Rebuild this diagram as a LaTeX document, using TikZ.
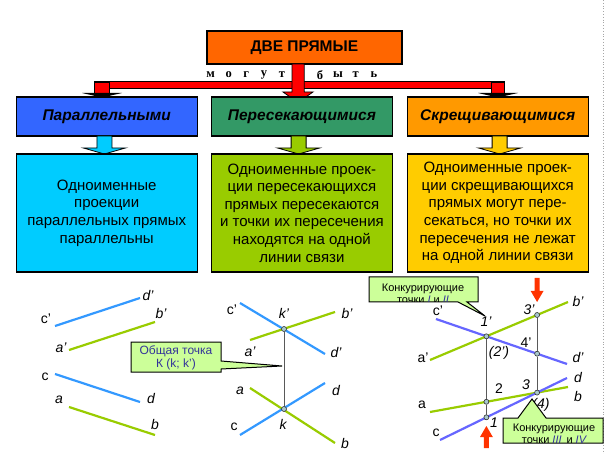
\documentclass[tikz,border=0pt]{standalone}
\usepackage{fontspec}
\setmainfont{Liberation Sans}
\newfontfamily\serifbold{Liberation Serif}[BoldFont={Liberation Serif Bold}]
\definecolor{topor}{HTML}{FF6600}
\definecolor{boxblue}{HTML}{3366FF}
\definecolor{boxgreen}{HTML}{339966}
\definecolor{boxorange}{HTML}{FF9900}
\definecolor{boxcyan}{HTML}{00CCFF}
\definecolor{boxlime}{HTML}{99CC00}
\definecolor{boxyellow}{HTML}{FFCC00}
\definecolor{lnblue}{HTML}{3399FF}
\definecolor{lngreen}{HTML}{99CC00}
\definecolor{lnpurple}{HTML}{6666FF}
\definecolor{callfill}{HTML}{CCFF99}
\definecolor{calltext}{HTML}{333399}
\definecolor{ptfill}{HTML}{A8C8CC}
\definecolor{arrred}{HTML}{FF3300}
\newcommand\blockarr[4]{%
  \draw[fill=#1,line width=0.8pt,line join=miter] (#2-7.5,#3) -- (#2+7.5,#3) -- (#2+7.5,#4-6) -- (#2+21,#4-6) -- (#2,#4) -- (#2-21,#4-6) -- (#2-7.5,#4-6) -- cycle;}
\begin{document}
\begin{tikzpicture}[x=1pt,y=-1pt,
  box/.style={draw=black,line width=1.3pt,inner sep=0pt,align=center,minimum width=181pt},
  topbox/.style={box,fill=topor,minimum width=195pt,minimum height=33pt,font=\bfseries\fontsize{15.5}{18}\selectfont},
  catbox/.style={box,minimum height=39pt,font=\bfseries\itshape\fontsize{15.5}{18}\selectfont},
  txtbox/.style={box,minimum height=118pt,font=\fontsize{15}{17.6}\selectfont},
  lab/.style={inner sep=0pt,font=\itshape\fontsize{14}{14}\selectfont},
  labu/.style={inner sep=0pt,font=\fontsize{14}{14}\selectfont},
  ln/.style={line width=2.2pt},
  link/.style={draw=black!65,line width=0.9pt},
  pt/.style={circle,draw=black!80,fill=ptfill,inner sep=0pt,minimum size=5pt,line width=0.6pt},
  callout/.style={draw=black,line width=1pt,fill=callfill},
  calltxt/.style={inner sep=0pt,align=center,text=calltext},
  letter/.style={inner sep=0pt,font=\serifbold\bfseries\fontsize{12.5}{12.5}\selectfont}
]
\useasboundingbox (0,0) rectangle (605,454);
\fill[white] (0,0) rectangle (605,454);
\draw[black!35,dotted,line width=0.8pt] (603,0) -- (603,454);

% top
\node[topbox] (top) at (304.4,47.5) {ДВЕ ПРЯМЫЕ};
\foreach \x/\l [count=\i] in {210.7/м,228.8/о,246.2/г,264/у,282/т,320/б,338/ы,355.6/т,374/ь}
  \node[letter] (let\i) at (\x,75) {\l};

% red bar and arrows
\draw[fill=red,line width=1pt] (94.7,82) rectangle (504.4,89);
\draw[fill=red,line width=0.8pt] (94.7,82) rectangle (109.3,94);
\fill[black] (82,93) -- (122,93) -- (102,97.5) -- cycle;
\draw[fill=red,line width=0.8pt] (491,82) rectangle (504.4,94);
\fill[black] (478,93) -- (518,93) -- (497.7,97.5) -- cycle;
\draw[fill=red,line width=0.8pt,line join=miter] (292,64) -- (304.2,64) -- (304.2,92) -- (313,92) -- (298,102.5) -- (283,92) -- (292,92) -- cycle;

% category boxes
\node[catbox,fill=boxblue] (par) at (106.7,116.5) {Параллельными};
\node[catbox,fill=boxgreen] (inter) at (301.9,116.5) {Пересекающимися};
\node[catbox,fill=boxorange] (skew) at (497.7,116.5) {Скрещивающимися};

% small arrows
\blockarr{boxcyan}{104.4}{136}{154}
\blockarr{boxlime}{298.6}{136}{154}
\blockarr{boxyellow}{499.6}{136}{154}

% text boxes
\node[txtbox,fill=boxcyan] (parT) at (106.7,213) {Одноименные\\проекции\\параллельных прямых\\параллельны};
\node[txtbox,fill=boxlime] (interT) at (301.9,213) {Одноименные проек-\\ции пересекающихся\\прямых пересекаются\\и точки их пересечения\\находятся на одной\\линии связи};
\node[txtbox,fill=boxyellow] (skewT) at (497.7,213) {Одноименные проек-\\ции скрещивающихся\\прямых могут пере-\\секаться, но точки их\\пересечения не лежат\\на одной линии связи};

% ---------- left: parallel ----------
\coordinate (L1) at (55,326); \coordinate (L2) at (140,298);
\coordinate (L3) at (69,350); \coordinate (L4) at (155,322);
\coordinate (L5) at (55,374); \coordinate (L6) at (140,402);
\coordinate (L7) at (69,407); \coordinate (L8) at (155,435);
\draw[ln,lnblue] (L1) -- (L2);
\draw[ln,lngreen] (L3) -- (L4);
\draw[ln,lnblue] (L5) -- (L6);
\draw[ln,lngreen] (L7) -- (L8);
\node[labu] (lc1) at (46,319) {c'};
\node[lab] (ld1) at (148,295) {d'};
\node[lab] (la1) at (61,348) {a'};
\node[lab] (lb1) at (161,313) {b'};
\node[labu] (lc) at (45,377) {c};
\node[lab] (ld) at (151,398) {d};
\node[lab] (la) at (59,400) {a};
\node[lab] (lb) at (155,424) {b};

% ---------- middle: intersecting ----------
\coordinate (M1) at (240,303); \coordinate (M2) at (325,354);
\coordinate (M3) at (250,340); \coordinate (M4) at (335,312);
\coordinate (M5) at (250,388); \coordinate (M6) at (335,443);
\coordinate (M7) at (240,435); \coordinate (M8) at (325,383);
\draw[ln,lnblue] (M1) -- (M2);
\draw[ln,lngreen] (M3) -- (M4);
\draw[ln,lngreen] (M5) -- (M6);
\draw[ln,lnblue] (M7) -- (M8);
\node[pt] (k1) at (284,329) {};
\node[pt] (k) at (284,409) {};
\draw[link] (k1) -- (k);
\node[lab] (mk1) at (284,313) {k'};
\node[lab] (mk) at (283,424) {k};
\node[labu] (mc1) at (232,310) {c'};
\node[lab] (md1) at (336,352) {d'};
\node[lab] (ma1) at (250,352) {a'};
\node[lab] (mb1) at (347,313) {b'};
\node[lab] (ma) at (240,391) {a};
\node[lab] (md) at (336,390) {d};
\node[labu] (mc) at (234,427) {c};
\node[lab] (mb) at (345,443) {b};
% callout common point
\coordinate (kmid) at (282,366);
\draw[callout] (131,342) -- (221,342) -- (221,361) -- (kmid) -- (221,369) -- (221,372) -- (131,372) -- cycle;
\node[calltxt,font=\fontsize{12}{13}\selectfont] (common) at (176,358) {Общая точка\\К (k; k')};

% ---------- right: skew ----------
\coordinate (S1) at (436,319); \coordinate (S2) at (567,364);
\coordinate (S3) at (430,360); \coordinate (S4) at (568,302);
\coordinate (S5) at (430,412); \coordinate (S6) at (568,387);
\coordinate (S7) at (440,440); \coordinate (S8) at (567,378);
\draw[ln,lnpurple] (S1) -- (S2);
\draw[ln,lngreen] (S3) -- (S4);
\draw[ln,lngreen] (S5) -- (S6);
\draw[ln,lnpurple] (S7) -- (S8);
\node[pt] (p1p) at (486.4,336.3) {};
\node[pt] (p2) at (486.4,401.8) {};
\node[pt] (p1) at (486.4,417.3) {};
\node[pt] (p3p) at (537.1,315.0) {};
\node[pt] (p4p) at (537.1,353.7) {};
\node[pt] (p3) at (537.1,392.6) {};
\draw[link] (p1p) -- (p2);
\draw[link] (p2) -- (p1);
\draw[link] (p3p) -- (p4p);
\draw[link] (p4p) -- (p3);
\node[labu] (sc1) at (438,311) {c'};
\node[lab] (s1l) at (486,322) {1'};
\node[labu] (sa1) at (423,358) {a'};
\node[lab] (s2l) at (499,353) {(2')};
\node[labu] (s4l) at (526,343) {4'};
\node[lab] (sd1) at (578,357) {d'};
\node[lab] (s3l) at (529,310) {3'};
\node[lab] (sb1) at (578,301) {b'};
\node[labu] (s2) at (499,389) {2};
\node[lab] (s3) at (526,385) {3};
\node[lab] (sd) at (578,377) {d};
\node[lab] (sb) at (578,396) {b};
\node[lab] (s4) at (541,405) {(4)};
\node[labu] (sa) at (422,405) {a};
\node[lab] (s1) at (494,423) {1};
\node[labu] (sc) at (436,433) {c};
% red arrows
\fill[arrred] (534.6,278) -- (539.6,278) -- (539.6,291) -- (543.5,291) -- (537.1,302) -- (530.7,291) -- (534.6,291) -- cycle;
\fill[arrred] (483.9,448) -- (488.9,448) -- (488.9,437) -- (492.8,437) -- (486.4,426) -- (480,437) -- (483.9,437) -- cycle;

% callout I and II
\draw[callout] (369,277) -- (478,277) -- (478,302) -- (467,302) -- (485,316) -- (458,302) -- (369,302) -- cycle;
\begin{scope}
\clip (369.6,277.6) rectangle (477.4,301.4);
\node[calltxt,text=black,font=\fontsize{11}{12}\selectfont] (c1t) at (423,293.5) {Конкурирующие\\точки \textcolor{calltext}{\itshape I} и \textcolor{calltext}{\itshape II}};
\end{scope}
% callout III and IV
\draw[callout] (503,418) -- (518,418) -- (532,399) -- (546,418) -- (603,418) -- (603,443) -- (503,443) -- cycle;
\begin{scope}
\clip (503.6,418.6) rectangle (602.4,442.4);
\node[calltxt,text=black,font=\fontsize{11}{12}\selectfont] (c2t) at (554,433.5) {Конкурирующие\\точки \textcolor{calltext}{\itshape III}\, и \textcolor{calltext}{\itshape IV}};
\end{scope}
\end{tikzpicture}
\end{document}
